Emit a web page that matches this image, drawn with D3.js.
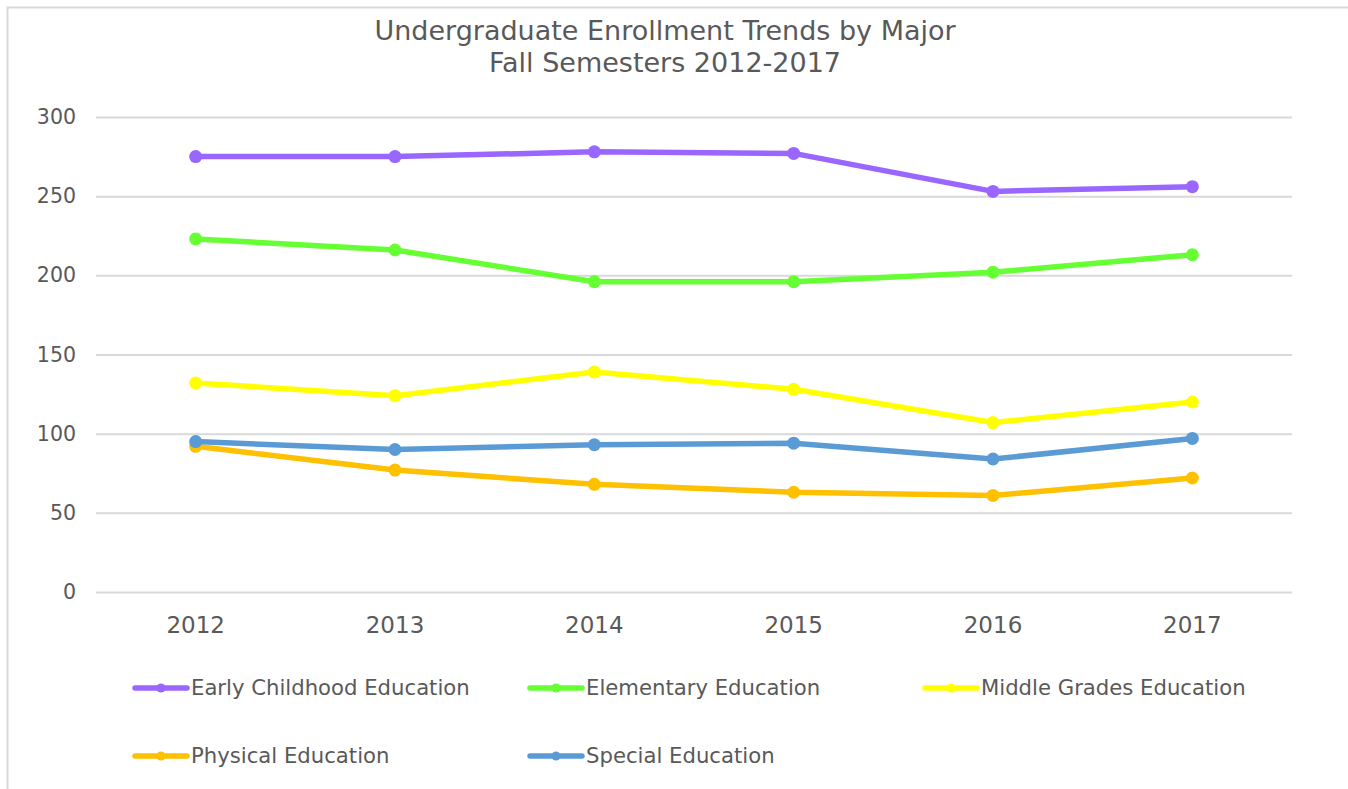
<!DOCTYPE html>
<html>
<head>
<meta charset="utf-8">
<script src="https://cdn.jsdelivr.net/npm/d3@7"></script>
<style>
  body { margin: 0; background: #fff; }
  text { font-family: "DejaVu Sans", Verdana, sans-serif; fill: #595959; }
</style>
</head>
<body>
<svg width="1348" height="789"></svg>
<script>
const years = ['2012', '2013', '2014', '2015', '2016', '2017'];
const seriesNames = ['Early Childhood Education', 'Elementary Education', 'Middle Grades Education', 'Physical Education', 'Special Education'];
const earlyChildhood = [275, 275, 278, 277, 253, 256];
const elementary = [223, 216, 196, 196, 202, 213];
const middleGrades = [132, 124, 139, 128, 107, 120];
const physical = [92, 77, 68, 63, 61, 72];
const special = [95, 90, 93, 94, 84, 97];
const yTicks = [0, 50, 100, 150, 200, 250, 300];
const colors = ['#9966ff', '#66ff33', '#ffff00', '#ffc000', '#5b9bd5'];

const series = [earlyChildhood, elementary, middleGrades, physical, special]
  .map((values, i) => ({ name: seriesNames[i], values, color: colors[i] }));

const svg = d3.select('svg');

// chart border (cropped at the right and bottom)
svg.append('rect')
  .attr('x', 7.5).attr('y', 7.5)
  .attr('width', 1400).attr('height', 900)
  .attr('fill', 'none')
  .attr('stroke', '#d9d9d9')
  .attr('stroke-width', 2);

const x = d3.scaleBand().domain(years).range([96, 1292]);
const y = d3.scaleLinear().domain([0, 300]).range([592, 117]);

// title
const title = svg.append('text')
  .attr('text-anchor', 'middle')
  .attr('font-size', 27);
title.append('tspan').attr('x', 665).attr('y', 40).text('Undergraduate Enrollment Trends by Major');
title.append('tspan').attr('x', 665).attr('y', 72).text('Fall Semesters 2012-2017');

// gridlines + y labels
const yAxis = svg.append('g')
  .attr('transform', 'translate(96,0)')
  .call(d3.axisLeft(y).tickValues(yTicks).tickSize(-1196).tickPadding(20));
yAxis.select('.domain').remove();
yAxis.selectAll('line').attr('stroke', '#d9d9d9').attr('stroke-width', 2);
yAxis.selectAll('text')
  .attr('font-size', 20.5)
  .attr('font-family', '"DejaVu Sans", Verdana, sans-serif')
  .attr('fill', '#595959');

// x labels
const xAxis = svg.append('g')
  .attr('transform', 'translate(0,592)')
  .call(d3.axisBottom(x).tickSize(0).tickPadding(25));
xAxis.select('.domain').remove();
xAxis.selectAll('text')
  .attr('font-size', 23)
  .attr('font-family', '"DejaVu Sans", Verdana, sans-serif')
  .attr('fill', '#595959');

const cx = d => x(d) + x.bandwidth() / 2;
const line = d3.line()
  .x((v, i) => cx(years[i]))
  .y(v => y(v));

const groups = svg.selectAll('.series')
  .data(series)
  .enter()
  .append('g')
  .attr('class', 'series');

groups.append('path')
  .attr('d', s => line(s.values))
  .attr('fill', 'none')
  .attr('stroke', s => s.color)
  .attr('stroke-width', 5.5)
  .attr('stroke-linejoin', 'round');

groups.selectAll('circle')
  .data(s => s.values.map((v, i) => ({ v, year: years[i], color: s.color })))
  .enter()
  .append('circle')
  .attr('cx', d => cx(d.year))
  .attr('cy', d => y(d.v))
  .attr('r', 6.5)
  .attr('fill', d => d.color);

// legend, three per row
const legend = svg.selectAll('.legend')
  .data(series)
  .enter()
  .append('g')
  .attr('class', 'legend')
  .attr('transform', (s, i) => `translate(${133 + (i % 3) * 395},${688 + Math.floor(i / 3) * 68})`);

legend.append('line')
  .attr('x1', 2).attr('x2', 54)
  .attr('stroke', s => s.color)
  .attr('stroke-width', 5.5)
  .attr('stroke-linecap', 'round');
legend.append('circle')
  .attr('cx', 28).attr('r', 4.5)
  .attr('fill', s => s.color);
legend.append('text')
  .attr('x', 58)
  .attr('dy', '0.35em')
  .attr('font-size', 21.2)
  .text(s => s.name);
</script>
</body>
</html>
